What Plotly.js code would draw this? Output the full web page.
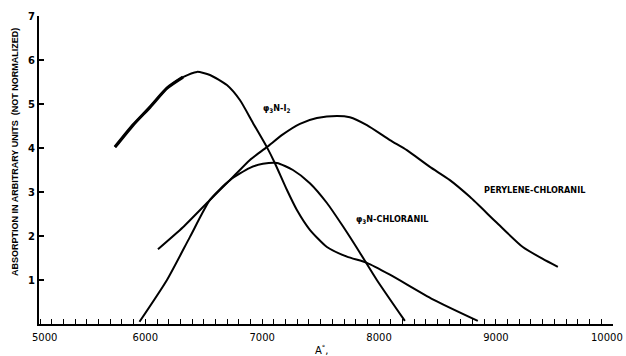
<!DOCTYPE html>
<html>
<head>
<meta charset="utf-8">
<script src="https://cdn.plot.ly/plotly-3.0.1.min.js"></script>
<style>html,body{margin:0;padding:0;background:#fff;}#chart{width:626px;height:356px;}</style>
</head>
<body>
<div id="chart"></div>
<script>
// Wavelength (Å) and absorption (arbitrary units)
const i2Wave = [5740, 5894, 6040, 6185, 6322, 6442, 6553, 6698, 6809, 6921, 7040, 7108, 7211, 7297, 7408, 7554, 7725, 7896, 8093, 8460, 8845];
const i2Abs  = [4.02, 4.52, 4.93, 5.36, 5.61, 5.73, 5.66, 5.43, 5.09, 4.57, 4.02, 3.66, 3.05, 2.59, 2.14, 1.75, 1.53, 1.39, 1.12, 0.56, 0.07];

const chlWave = [5950, 6185, 6382, 6553, 6724, 6895, 7006, 7126, 7263, 7408, 7554, 7691, 7836, 7981, 8221];
const chlAbs  = [0.05, 1.00, 1.98, 2.82, 3.27, 3.55, 3.64, 3.66, 3.50, 3.20, 2.75, 2.22, 1.62, 1.00, 0.07];

const perWave = [6108, 6322, 6553, 6724, 6895, 7040, 7177, 7323, 7468, 7639, 7750, 7896, 8093, 8238, 8435, 8606, 8777, 9008, 9230, 9401, 9530];
const perAbs  = [1.70, 2.20, 2.82, 3.27, 3.73, 4.02, 4.31, 4.55, 4.68, 4.73, 4.70, 4.52, 4.18, 3.95, 3.57, 3.27, 2.89, 2.30, 1.75, 1.48, 1.30];

const xTickVals = [6000, 7000, 8000, 9000, 10000];
const xTickText = ['6000', '7000', '8000', '9000', ''];
const yTickVals = [1, 2, 3, 4, 5, 6, 7];
const yTickText = ['1', '2', '3', '4', '5', '6', '7'];

const lineStyle = {color: '#000', width: 2, shape: 'spline', smoothing: 0.6};

const traces = [
  {x: i2Wave, y: i2Abs, mode: 'lines', line: lineStyle, hoverinfo: 'skip'},
  {x: i2Wave.slice(0, 5), y: i2Abs.slice(0, 5), mode: 'lines', line: {color: '#000', width: 3.2, shape: 'spline', smoothing: 0.6}, hoverinfo: 'skip'},
  {x: chlWave, y: chlAbs, mode: 'lines', line: lineStyle, hoverinfo: 'skip'},
  {x: perWave, y: perAbs, mode: 'lines', line: lineStyle, hoverinfo: 'skip'}
];

const lblFont = {family: 'DejaVu Sans Condensed, DejaVu Sans, sans-serif', size: 9, color: '#000', weight: 'bold'};
const tickFont = {family: 'DejaVu Sans, sans-serif', size: 10, color: '#000'};

const layout = {
  width: 626, height: 356,
  margin: {l: 39, r: 13, t: 16, b: 32},
  paper_bgcolor: '#fff', plot_bgcolor: '#fff',
  showlegend: false,
  xaxis: {
    range: [5090, 10002],
    showline: true, linecolor: '#000', linewidth: 1.5,
    showgrid: false, zeroline: false,
    ticks: 'inside', ticklen: 5, tickwidth: 1, tickcolor: '#000',
    tickvals: xTickVals, ticktext: xTickText,
    ticklabelstandoff: 3,
    tickfont: tickFont,
    minor: {dtick: 100, tick0: 5000, ticks: 'inside', ticklen: 5, tickwidth: 1, tickcolor: '#000', showgrid: false}
  },
  yaxis: {
    range: [0, 7],
    showline: true, linecolor: '#000', linewidth: 2,
    showgrid: false, zeroline: false,
    ticks: 'inside', ticklen: 5, tickwidth: 1.2, tickcolor: '#000',
    tickvals: yTickVals, ticktext: yTickText,
    tickfont: {family: 'DejaVu Sans, sans-serif', size: 10, color: '#000', weight: 'bold'}
  },
  annotations: [
    {xref: 'x', yref: 'paper', x: 5141, y: 0, yshift: -13, xanchor: 'center', yanchor: 'middle', text: '5000', showarrow: false, font: tickFont},
    {xref: 'paper', yref: 'paper', x: 1, xshift: 12, y: 0, yshift: -13, xanchor: 'right', yanchor: 'middle', text: '10000', showarrow: false, font: tickFont},
    {xref: 'paper', yref: 'paper', x: -0.042, y: 0.558, xanchor: 'center', yanchor: 'middle', textangle: -90, showarrow: false,
     text: 'ABSORPTION IN ARBITRARY UNITS  (NOT NORMALIZED)',
     font: {family: 'Liberation Sans, Arial, sans-serif', size: 9, color: '#000', weight: 'bold'}},
    {xref: 'paper', yref: 'paper', x: 0.493, y: -0.085, xanchor: 'center', yanchor: 'middle', showarrow: false, text: 'A<sup>°</sup>,',
     font: {family: 'DejaVu Sans, sans-serif', size: 10, color: '#000'}},
    {xref: 'paper', yref: 'paper', x: 0.413, y: 0.700, xanchor: 'center', yanchor: 'middle', showarrow: false, text: 'φ<sub>3</sub>N-I<sub>2</sub>', font: lblFont},
    {xref: 'paper', yref: 'paper', x: 0.615, y: 0.340, xanchor: 'center', yanchor: 'middle', showarrow: false, text: 'φ<sub>3</sub>N-CHLORANIL', font: lblFont},
    {xref: 'paper', yref: 'paper', x: 0.864, y: 0.435, xanchor: 'center', yanchor: 'middle', showarrow: false, text: 'PERYLENE-CHLORANIL', font: lblFont}
  ]
};

Plotly.newPlot('chart', traces, layout, {staticPlot: true, displayModeBar: false});
</script>
</body>
</html>
